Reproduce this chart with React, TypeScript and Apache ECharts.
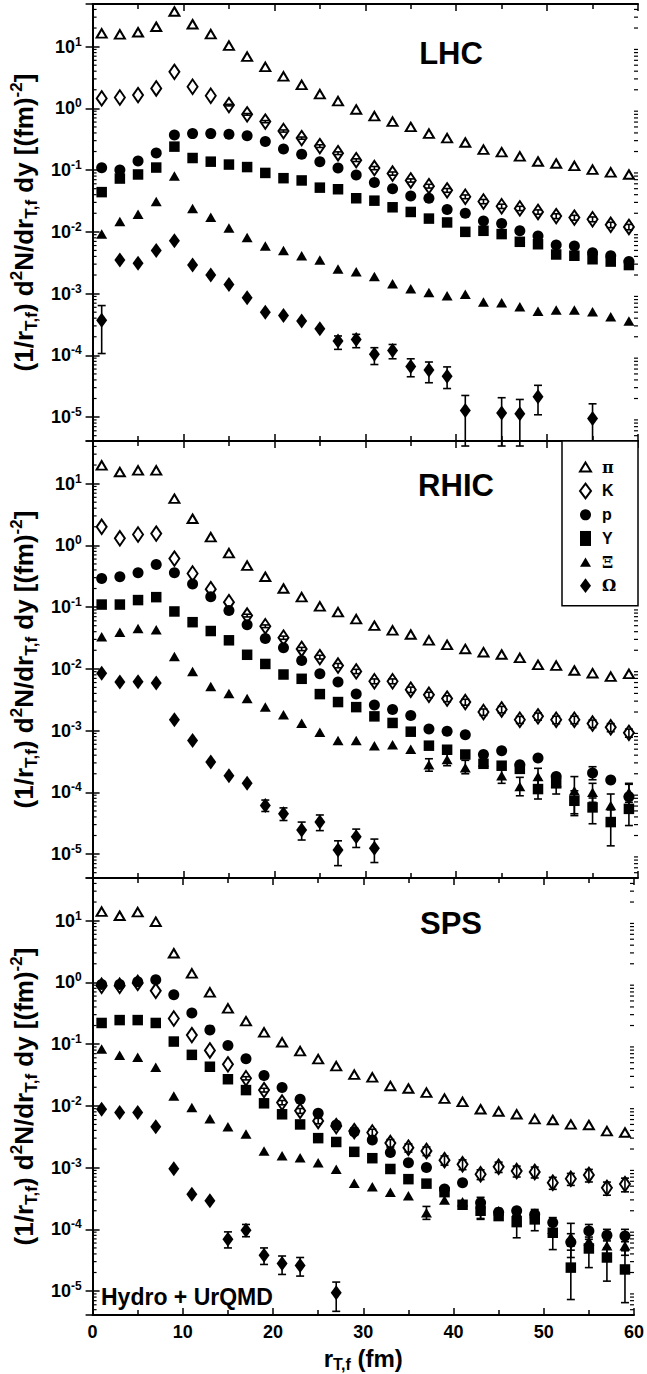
import React, { useEffect, useRef } from "react";
import * as echarts from "echarts";

// ---------------- data ----------------
const R = [1, 3, 5, 7, 9, 11, 13, 15, 17, 19, 21, 23, 25, 27, 29, 31, 33, 35, 37, 39, 41, 43, 45, 47, 49, 51, 53, 55, 57, 59];
const X_TICKS = [0, 10, 20, 30, 40, 50, 60];
const PANEL_NAMES = ["LHC", "RHIC", "SPS"];
const SPECIES_NAMES = ["π", "K", "p", "Y", "Ξ", "Ω"];

// LHC
const piLHC = [16.4, 15.8, 17.1, 21, 37, 23, 15.9, 10.4, 6.9, 4.7, 3.3, 2.4, 1.7, 1.31, 0.96, 0.75, 0.61, 0.5, 0.39, 0.33, 0.28, 0.215, 0.195, 0.167, 0.138, 0.128, 0.117, 0.102, 0.092, 0.085];
const kLHC = [1.45, 1.5, 1.64, 2.1, 3.9, 2.24, 1.6, 1.13, 0.8, 0.61, 0.43, 0.33, 0.245, 0.188, 0.145, 0.108, 0.088, 0.068, 0.055, 0.047, 0.037, 0.031, 0.026, 0.024, 0.021, 0.018, 0.017, 0.016, 0.013, 0.012];
const pLHC = [0.109, 0.1, 0.14, 0.19, 0.37, 0.39, 0.39, 0.38, 0.36, 0.29, 0.22, 0.18, 0.137, 0.108, 0.083, 0.063, 0.05, 0.038, 0.035, 0.023, 0.02, 0.015, 0.0136, 0.0104, 0.0086, 0.0061, 0.0059, 0.0046, 0.0041, 0.0033];
const yLHC = [0.044, 0.073, 0.085, 0.11, 0.24, 0.157, 0.137, 0.123, 0.112, 0.09, 0.074, 0.068, 0.052, 0.049, 0.035, 0.032, 0.025, 0.021, 0.0164, 0.0142, 0.01, 0.0104, 0.0092, 0.0069, 0.0063, 0.0043, 0.0041, 0.0036, 0.0033, 0.0029];
const xiLHC = [0.0092, 0.0147, 0.0193, 0.031, 0.08, 0.024, 0.0173, 0.0115, 0.0081, 0.0059, 0.005, 0.0041, 0.0035, 0.0025, 0.00225, 0.00189, 0.00145, 0.0012, 0.00104, 0.00092, 0.00098, 0.00073, 0.00071, 0.00061, 0.00052, 0.00054, 0.00054, 0.00051, 0.00042, 0.00036];
const omLHC = [3.7e-4, 3.5e-3, 3.1e-3, 5.0e-3, 7.2e-3, 2.9e-3, 2.0e-3, 1.4e-3, 8.6e-4, 5.0e-4, 4.4e-4, 3.6e-4, 2.7e-4, 1.7e-4, 1.8e-4, 1.04e-4, 1.2e-4, 6.6e-5, 5.8e-5, 4.6e-5, 1.28e-5, null, 1.17e-5, 1.13e-5, 2.14e-5, null, null, 9.5e-6, null, null];

// RHIC
const piRHIC = [19.8, 15.4, 16.4, 16.4, 5.7, 2.7, 1.36, 0.75, 0.47, 0.31, 0.2, 0.145, 0.103, 0.083, 0.064, 0.05, 0.042, 0.036, 0.029, 0.0245, 0.021, 0.0186, 0.0171, 0.0151, 0.0116, 0.0113, 0.0094, 0.0085, 0.0075, 0.0083];
const kRHIC = [2.0, 1.3, 1.5, 1.55, 0.61, 0.35, 0.195, 0.12, 0.073, 0.049, 0.032, 0.021, 0.0155, 0.0113, 0.0091, 0.0063, 0.0063, 0.0046, 0.0038, 0.0033, 0.0029, 0.002, 0.0022, 0.0015, 0.0017, 0.0015, 0.0015, 0.0013, 0.00113, 0.00092];
const pRHIC = [0.29, 0.31, 0.36, 0.49, 0.36, 0.236, 0.147, 0.088, 0.052, 0.031, 0.022, 0.0136, 0.0083, 0.0061, 0.0039, 0.0026, 0.0022, 0.00175, 0.00106, 0.00098, 0.00086, 0.00041, 0.00047, 0.00028, 0.00036, 0.00018, null, 0.000206, 0.000159, 0.000085];
const yRHIC = [0.11, 0.11, 0.13, 0.145, 0.085, 0.057, 0.041, 0.029, 0.0169, 0.012, 0.0081, 0.0069, 0.0039, 0.0029, 0.0024, 0.0017, 0.00133, 0.00096, 0.00057, 0.00049, 0.00041, 0.00029, 0.00027, 0.00024, 0.000113, 0.00014, 7.3e-5, 5.7e-5, 3.3e-5, 5.4e-5];
const xiRHIC = [0.033, 0.039, 0.045, 0.043, 0.0159, 0.0091, 0.0052, 0.004, 0.0033, 0.0024, 0.0018, 0.00132, 0.00094, 0.00069, 0.00069, 0.00057, 0.00059, 0.0005, 0.00028, 0.00034, 0.00025, 0.00031, 0.000186, 0.000124, 0.00018, 0.000145, 0.000106, 0.0001, 6.1e-5, 1.0e-4];
const omRHIC = [0.0085, 0.0061, 0.0062, 0.0059, 0.0015, 0.00069, 0.00031, 0.000186, 0.00014, 6.1e-5, 4.5e-5, 2.45e-5, 3.3e-5, 1.16e-5, 1.91e-5, 1.24e-5, null, null, null, null, null, null, null, null, null, null, null, null, null, null];

// SPS
const piSPS = [14, 12, 13.7, 9.6, 2.96, 1.4, 0.69, 0.38, 0.235, 0.155, 0.107, 0.077, 0.057, 0.044, 0.032, 0.029, 0.021, 0.0191, 0.0164, 0.0131, 0.0116, 0.0088, 0.0081, 0.0073, 0.0061, 0.0059, 0.005, 0.0049, 0.0039, 0.0037];
const kSPS = [0.88, 0.88, 0.98, 0.73, 0.26, 0.14, 0.079, 0.047, 0.028, 0.018, 0.0113, 0.0083, 0.0057, 0.0047, 0.0039, 0.0037, 0.0025, 0.0021, 0.00186, 0.00132, 0.00113, 0.00078, 0.00103, 0.00088, 0.00085, 0.00057, 0.00066, 0.00076, 0.00047, 0.00054];
const pSPS = [0.92, 0.92, 1.02, 1.1, 0.63, 0.32, 0.17, 0.095, 0.058, 0.031, 0.0198, 0.0128, 0.0076, 0.0049, 0.0038, 0.0028, 0.00175, 0.0012, 0.001, 0.00045, 0.00057, 0.00027, 0.00019, 0.0002, 0.000175, 0.000129, 6.2e-5, 9.4e-5, 8.0e-5, 7.8e-5];
const ySPS = [0.22, 0.245, 0.245, 0.22, 0.11, 0.067, 0.043, 0.027, 0.018, 0.011, 0.0073, 0.005, 0.003, 0.0026, 0.0018, 0.00142, 0.00095, 0.00065, 0.00055, 0.0004, 0.00025, 0.0002, 0.000164, 0.000131, 0.000145, 8.8e-5, 2.4e-5, 4.9e-5, 3.5e-5, 2.24e-5];
const xiSPS = [0.083, 0.066, 0.061, 0.042, 0.0145, 0.0094, 0.0062, 0.0046, 0.0035, 0.00186, 0.00155, 0.00145, 0.0012, 0.00094, 0.00056, 0.00049, 0.0004, 0.00035, 0.000185, 0.0003, 0.00028, 0.00026, 0.0002, 0.00019, 0.00018, 0.0001, 7.5e-5, 6.5e-5, 5.4e-5, 5.4e-5];
const omSPS = [0.0088, 0.0078, 0.0078, 0.0046, 0.00096, 0.00037, 0.00029, 6.9e-5, 9.7e-5, 3.8e-5, 2.8e-5, 2.6e-5, null, 9.4e-6, null, null, null, null, null, null, null, null, null, null, null, null, null, null, null, null];

// error bars [r, low, high]
const errLHC = [
  [1, 1.07e-4, 6.4e-4], [27, 1.25e-4, 2.06e-4], [29, 1.33e-4, 2.19e-4], [31, 7.1e-5, 1.33e-4], [33, 8.8e-5, 1.5e-4],
  [35, 4.5e-5, 8.8e-5], [37, 3.6e-5, 7.8e-5], [39, 2.9e-5, 6.5e-5], [41, 3.4e-6, 2.24e-5], [45, 3.4e-6, 2.06e-5],
  [47, 3.4e-6, 1.93e-5], [49, 1.09e-5, 3.27e-5], [55, 4.1e-6, 1.64e-5],
];
const errRHIC = [
  [19, 4.9e-5, 7.5e-5], [21, 3.5e-5, 5.6e-5], [23, 1.69e-5, 3.3e-5], [25, 2.4e-5, 4.3e-5], [27, 6.5e-6, 1.64e-5],
  [29, 1.28e-5, 2.54e-5], [31, 7.3e-6, 1.75e-5],
  [49, 7.8e-5, 1.64e-4], [51, 9.4e-5, 2.0e-4], [53, 4.2e-5, 1.06e-4], [55, 3.1e-5, 8.1e-5], [57, 1.36e-5, 5.2e-5], [59, 2.9e-5, 7.8e-5],
  [37, 2.2e-4, 3.5e-4], [39, 2.7e-4, 4.2e-4], [41, 2.0e-4, 3.3e-4], [45, 1.4e-4, 2.4e-4], [47, 8.8e-5, 1.75e-4],
  [49, 1.13e-4, 2.45e-4], [53, 4.5e-5, 1.8e-4], [55, 6.9e-5, 1.4e-4], [57, 3.6e-5, 9.4e-5], [59, 6.9e-5, 1.4e-4],
  [59, 5.1e-5, 1.35e-4], [55, 1.6e-4, 2.6e-4],
];
const errSPS = [
  [15, 5.0e-5, 9.1e-5], [17, 7.6e-5, 1.2e-4], [19, 2.7e-5, 5.0e-5], [21, 1.86e-5, 3.7e-5], [23, 1.75e-5, 3.5e-5], [27, 4.7e-6, 1.4e-5],
  [43, 1.5e-4, 2.7e-4], [47, 7.3e-5, 1.86e-4], [49, 9.5e-5, 2.1e-4], [51, 4.7e-5, 1.55e-4], [53, 7.3e-6, 5.4e-5],
  [55, 2.4e-5, 6.9e-5], [57, 1.45e-5, 5.0e-5], [59, 6.5e-6, 4.5e-5],
  [37, 1.45e-4, 2.35e-4], [43, 1.45e-4, 3.3e-4], [53, 3.5e-5, 1.25e-4], [55, 4.5e-5, 1.0e-4], [57, 3.8e-5, 8.0e-5], [59, 3.8e-5, 8.5e-5],
  [53, 4.6e-5, 8.5e-5], [55, 7.5e-5, 1.2e-4], [57, 6.5e-5, 1.0e-4], [59, 6.3e-5, 1.0e-4],
];
// relative errors of the kaon points (small bars seen inside the open diamonds)
const kRelErrLHC = [0, 0, 0, 0, 0, 0, 0, 0.03, 0.03, 0.04, 0.04, 0.04, 0.05, 0.05, 0.05, 0.06, 0.06, 0.06, 0.07, 0.07, 0.07, 0.08, 0.08, 0.08, 0.08, 0.09, 0.09, 0.09, 0.1, 0.1];
const kRelErrRHIC = [0, 0, 0, 0, 0, 0, 0, 0, 0.05, 0.05, 0.06, 0.06, 0.07, 0.08, 0.08, 0.09, 0.09, 0.1, 0.1, 0.11, 0.11, 0.12, 0.12, 0.13, 0.13, 0.14, 0.14, 0.14, 0.15, 0.15];
const kRelErrSPS = [0, 0, 0, 0, 0, 0, 0, 0, 0.06, 0.07, 0.08, 0.09, 0.1, 0.1, 0.12, 0.13, 0.14, 0.15, 0.16, 0.17, 0.18, 0.18, 0.19, 0.2, 0.2, 0.22, 0.22, 0.23, 0.24, 0.25];

// minor log ticks: multipliers within each decade
const MINOR_MULTS = [2, 3, 4, 5, 6, 7, 8, 9];
const DECADES = [-6, -5, -4, -3, -2, -1, 0, 1];

// ---------------- layout / styles ----------------
const FONT = "'Liberation Sans', Arial, sans-serif";
const SERIF = "'DejaVu Serif', 'Liberation Serif', serif";
const GRID_LEFT = 91;
const GRID_W = 547;
const GRID_TOPS = [4, 441, 878];
const GRID_H = 437;
const Y_MIN = 4.1e-6;
const Y_MAX = 49;

const PANELS = [
  { values: [piLHC, kLHC, pLHC, yLHC, xiLHC, omLHC], err: errLHC, kErr: kRelErrLHC, label: [451, 53] },
  { values: [piRHIC, kRHIC, pRHIC, yRHIC, xiRHIC, omRHIC], err: errRHIC, kErr: kRelErrRHIC, label: [456, 485] },
  { values: [piSPS, kSPS, pSPS, ySPS, xiSPS, omSPS], err: errSPS, kErr: kRelErrSPS, label: [451, 923] },
];

const SYMBOLS = [
  { symbol: "triangle", size: [10, 8.5], open: true, icon: "path://M6,0L12,10L0,10Z" },
  { symbol: "diamond", size: [10, 14.5], open: true, icon: "path://M6,0L12,8L6,16L0,8Z" },
  { symbol: "circle", size: 11, open: false, icon: "circle" },
  { symbol: "rect", size: 10.5, open: false, icon: "rect" },
  { symbol: "triangle", size: [11, 9.5], open: false, icon: "path://M6,0L12,10L0,10Z" },
  { symbol: "diamond", size: [11, 15], open: false, icon: "path://M6,0L12,8L6,16L0,8Z" },
];
const GREEK = ["π", "Ξ", "Ω"];

function buildOption() {
  const grid: any[] = [];
  const xAxis: any[] = [];
  const yAxis: any[] = [];
  const series: any[] = [];
  const graphic: any[] = [];

  const tickStyle = { color: "#000", width: 1.5 };
  const lineStyle = { color: "#000", width: 2 };

  const minorValues: number[] = [];
  DECADES.forEach((d) => MINOR_MULTS.forEach((m) => {
    const v = m * Math.pow(10, d);
    if (v > Y_MIN && v < Y_MAX) minorValues.push(v);
  }));

  PANELS.forEach((panel, i) => {
    grid.push({ left: GRID_LEFT, top: GRID_TOPS[i], width: GRID_W, height: GRID_H, containLabel: false });
    const last = i === PANELS.length - 1;
    ["bottom", "top"].forEach((pos) => {
      xAxis.push({
        type: "value",
        gridIndex: i,
        position: pos,
        min: X_TICKS[0],
        max: X_TICKS[X_TICKS.length - 1],
        interval: 10,
        axisLine: { show: true, lineStyle },
        axisTick: { show: true, inside: true, length: 7, lineStyle: tickStyle },
        minorTick: { show: true, splitNumber: 2, length: 5, lineStyle: tickStyle },
        splitLine: { show: false },
        axisLabel: {
          show: last && pos === "bottom",
          margin: 8,
          fontFamily: FONT,
          fontWeight: "bold",
          fontSize: 18,
          color: "#000",
        },
        name: last && pos === "bottom" ? "r{sub|T,f} (fm)" : "",
        nameLocation: "middle",
        nameGap: 29,
        nameTextStyle: {
          fontFamily: FONT,
          fontWeight: "bold",
          fontSize: 24,
          lineHeight: 28,
          color: "#000",
          rich: {
            sub: { fontFamily: FONT, fontWeight: "bold", fontSize: 16, lineHeight: 14, verticalAlign: "bottom" },
          },
        },
      });
    });
    ["left", "right"].forEach((pos) => {
      yAxis.push({
        type: "log",
        logBase: 10,
        gridIndex: i,
        position: pos,
        min: Y_MIN,
        max: Y_MAX,
        axisLine: { show: true, lineStyle },
        axisTick: { show: true, inside: true, length: 7, lineStyle: tickStyle },
        splitLine: { show: false },
        axisLabel: {
          show: pos === "left",
          showMinLabel: false,
          showMaxLabel: false,
          margin: 11,
          color: "#000",
          fontFamily: FONT,
          fontWeight: "bold",
          fontSize: 18,
          formatter: (v: number) => `{b|10}{s|${Math.round(Math.log10(v))}}`,
          rich: {
            b: { fontFamily: FONT, fontWeight: "bold", fontSize: 18, lineHeight: 22, color: "#000" },
            s: { fontFamily: FONT, fontWeight: "bold", fontSize: 12, lineHeight: 13, verticalAlign: "top", color: "#000" },
          },
        },
        name: pos === "left" ? "(1/r{sub|T,f}) d{sup|2}N/dr{sub|T,f} dy [(fm){sup|-2}]" : "",
        nameLocation: "middle",
        nameRotate: 90,
        nameGap: 40,
        nameTextStyle: {
          fontFamily: FONT,
          fontWeight: "bold",
          fontSize: 26,
          lineHeight: 32,
          color: "#000",
          rich: {
            sub: { fontFamily: FONT, fontWeight: "bold", fontSize: 17, lineHeight: 16, verticalAlign: "bottom", color: "#000" },
            sup: { fontFamily: FONT, fontWeight: "bold", fontSize: 17, lineHeight: 16, verticalAlign: "top", color: "#000" },
          },
        },
      });
    });

    // minor log ticks on the left and right y axes
    series.push({
      type: "custom",
      name: "minor" + i,
      xAxisIndex: 2 * i,
      yAxisIndex: 2 * i,
      silent: true,
      z: 1,
      encode: { x: 0, y: 1 },
      data: minorValues.map((v) => [0, v]),
      renderItem: (params: any, api: any) => {
        const a = api.coord([X_TICKS[0], api.value(1)]);
        const b = api.coord([X_TICKS[X_TICKS.length - 1], api.value(1)]);
        const style = { stroke: "#000", lineWidth: 1.2 };
        return {
          type: "group",
          children: [
            { type: "line", shape: { x1: a[0], y1: a[1], x2: a[0] + 4, y2: a[1] }, style },
            { type: "line", shape: { x1: b[0] - 4, y1: b[1], x2: b[0], y2: b[1] }, style },
          ],
        };
      },
    });

    SPECIES_NAMES.forEach((name, s) => {
      const st = SYMBOLS[s];
      const vals = panel.values[s];
      const data: any[] = [];
      R.forEach((r, k) => {
        if (vals[k] != null) data.push([r, vals[k]]);
      });
      series.push({
        type: "scatter",
        name,
        xAxisIndex: 2 * i,
        yAxisIndex: 2 * i,
        symbol: st.symbol,
        symbolSize: st.size,
        itemStyle: st.open
          ? { color: "#fff", borderColor: "#000", borderWidth: 2, opacity: 1 }
          : { color: "#000", borderColor: "#000", borderWidth: 0, opacity: 1 },
        emphasis: { disabled: true },
        data,
        z: 2,
      });
    });

    const errData: any[] = panel.err.map((e) => e.slice());
    R.forEach((r, k) => {
      const v = panel.values[1][k];
      const f = panel.kErr[k];
      if (v != null && f > 0) errData.push([r, v * (1 - f), v * (1 + f)]);
    });
    series.push({
      type: "custom",
      name: "err" + i,
      xAxisIndex: 2 * i,
      yAxisIndex: 2 * i,
      clip: false,
      z: 3,
      silent: true,
      encode: { x: 0, y: [1, 2] },
      data: errData,
      renderItem: (params: any, api: any) => {
        const x = api.value(0);
        const a = api.coord([x, api.value(1)]);
        const b = api.coord([x, api.value(2)]);
        const w = 4;
        const style = { stroke: "#000", lineWidth: 1.6, fill: "none" };
        return {
          type: "group",
          children: [
            { type: "line", shape: { x1: a[0], y1: a[1], x2: b[0], y2: b[1] }, style },
            { type: "line", shape: { x1: a[0] - w, y1: a[1], x2: a[0] + w, y2: a[1] }, style },
            { type: "line", shape: { x1: b[0] - w, y1: b[1], x2: b[0] + w, y2: b[1] }, style },
          ],
        };
      },
    });

    graphic.push({
      type: "text",
      x: panel.label[0],
      y: panel.label[1],
      style: {
        text: PANEL_NAMES[i],
        fill: "#000",
        font: `bold 31px ${FONT}`,
        align: "center",
        verticalAlign: "middle",
        textAlign: "center",
        textVerticalAlign: "middle",
      },
    });
  });

  graphic.push({
    type: "text",
    x: 101,
    y: 1297,
    style: {
      text: "Hydro + UrQMD",
      fill: "#000",
      font: `bold 23px ${FONT}`,
      align: "left",
      verticalAlign: "middle",
      textAlign: "left",
      textVerticalAlign: "middle",
    },
  });

  return {
    animation: false,
    backgroundColor: "#fff",
    grid,
    xAxis,
    yAxis,
    series,
    graphic,
    legend: {
      show: true,
      orient: "vertical",
      left: 562,
      top: 441,
      padding: [18, 20, 12, 17],
      itemWidth: 11,
      itemHeight: 15,
      itemGap: 7.6,
      borderColor: "#000",
      borderWidth: 1.5,
      backgroundColor: "#fff",
      selectedMode: false,
      formatter: (n: string) => (GREEK.indexOf(n) >= 0 ? `{g|${n}}` : n),
      textStyle: {
        fontFamily: FONT,
        fontWeight: "bold",
        fontSize: 16,
        lineHeight: 15,
        color: "#000",
        width: 16,
        padding: [0, 0, 0, 6],
        rich: {
          g: { fontFamily: SERIF, fontWeight: "bold", fontSize: 16, lineHeight: 15, color: "#000" },
        },
      },
      data: SPECIES_NAMES.map((n, s) => ({ name: n, icon: SYMBOLS[s].icon })),
    },
  };
}

export default function App() {
  const ref = useRef<HTMLDivElement>(null);
  useEffect(() => {
    if (!ref.current) return;
    const chart = echarts.init(ref.current, null, { renderer: "svg" });
    chart.setOption(buildOption() as any);
    return () => chart.dispose();
  }, []);
  return (
    <div
      ref={ref}
      style={{ position: "fixed", left: 0, top: 0, width: 647, height: 1374, background: "#fff" }}
    />
  );
}
